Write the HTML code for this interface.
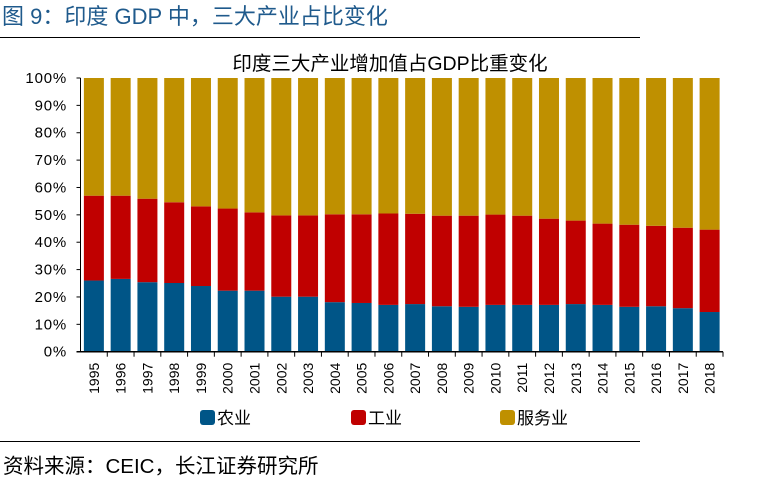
<!DOCTYPE html>
<html><head><meta charset="utf-8"><style>
body{margin:0;background:#fff;width:762px;height:478px;overflow:hidden;font-family:"Liberation Sans","Noto Sans CJK SC",sans-serif}
</style></head><body>
<svg width="762" height="478" viewBox="0 0 762 478" xmlns="http://www.w3.org/2000/svg" font-family="Liberation Sans, Noto Sans CJK SC, sans-serif">
<text x="2" y="24" font-size="22" fill="#1F5A8C">图 9：印度 GDP 中，三大产业占比变化</text>
<line x1="0" y1="37.5" x2="640" y2="37.5" stroke="#000" stroke-width="1"/>
<text x="390" y="70" font-size="19.5" text-anchor="middle" fill="#000">印度三大产业增加值占GDP比重变化</text>
<g id="plot"></g>
<g>
<rect x="200" y="410" width="15" height="15" rx="3" fill="#005587"/>
<text x="217" y="424" font-size="17">农业</text>
<rect x="351" y="410" width="15" height="15" rx="3" fill="#C00000"/>
<text x="368" y="424" font-size="17">工业</text>
<rect x="500" y="410" width="15" height="15" rx="3" fill="#BF9000"/>
<text x="517" y="424" font-size="17">服务业</text>
</g>
<line x1="0" y1="441.5" x2="640" y2="441.5" stroke="#000" stroke-width="1"/>
<text x="3" y="473" font-size="20.5">资料来源：CEIC，长江证券研究所</text>
</svg>
<script>
const years=["1995","1996","1997","1998","1999","2000","2001","2002","2003","2004","2005","2006","2007","2008","2009","2010","2011","2012","2013","2014","2015","2016","2017","2018"];
const agriculture=[26.0,26.6,25.4,25.1,24.0,22.3,22.3,20.1,20.1,18.1,17.8,17.1,17.4,16.6,16.4,17.1,17.1,17.1,17.4,17.1,16.4,16.6,15.9,14.5];
const industryTop=[57.0,57.0,55.9,54.6,53.1,52.3,50.9,49.8,49.8,50.2,50.2,50.5,50.4,49.7,49.7,50.1,49.7,48.6,47.9,46.8,46.4,46.0,45.3,44.6];
const yTicks=[0,10,20,30,40,50,60,70,80,90,100];
const NS="http://www.w3.org/2000/svg";
const g=document.getElementById('plot');
const x0=80.5,x1=723,y0=351.7,y100=78;
const step=(x1-x0)/years.length,bw=20;
const yS=v=>y0-(y0-y100)*v/100;
const xS=i=>x0+step*i+step/2;
function mk(t,a){const e=document.createElementNS(NS,t);for(const k in a)e.setAttribute(k,a[k]);g.appendChild(e);return e;}
years.forEach((yr,i)=>{
 const cx=xS(i);
 const segs=[[0,agriculture[i],'#005587','bar-agriculture-'+yr],[agriculture[i],industryTop[i],'#C00000','bar-industry-'+yr],[industryTop[i],100,'#BF9000','bar-services-'+yr]];
 segs.forEach(s=>{
  const r=mk('rect',{x:cx-bw/2,y:yS(s[1]),width:bw,height:yS(s[0])-yS(s[1]),fill:s[2]});
  
  
 });
 const t=mk('text',{x:0,y:0,'font-size':14,'text-anchor':'end',transform:`translate(${cx+5},${y0+11}) rotate(-90)`});
 t.textContent=yr;
 
 
 const tk=mk('line',{x1:x0+step*(i+1),x2:x0+step*(i+1),y1:y0,y2:y0+5,stroke:'#000'});
 
 
});
const ax=mk('line',{x1:x0,x2:x0,y1:y100,y2:y0,stroke:'#000'});


const xa=mk('line',{x1:x0-4,x2:x1,y1:y0,y2:y0,stroke:'#000','stroke-width':1.5});


yTicks.forEach(v=>{
 const l=mk('line',{x1:x0-4,x2:x0,y1:yS(v),y2:yS(v),stroke:'#000'});
 
 
 const t=mk('text',{x:67,y:yS(v)+5,'font-size':15,'letter-spacing':'0.8','text-anchor':'end'});
 t.textContent=v+'%';
 
 
});
</script>
</body></html>
